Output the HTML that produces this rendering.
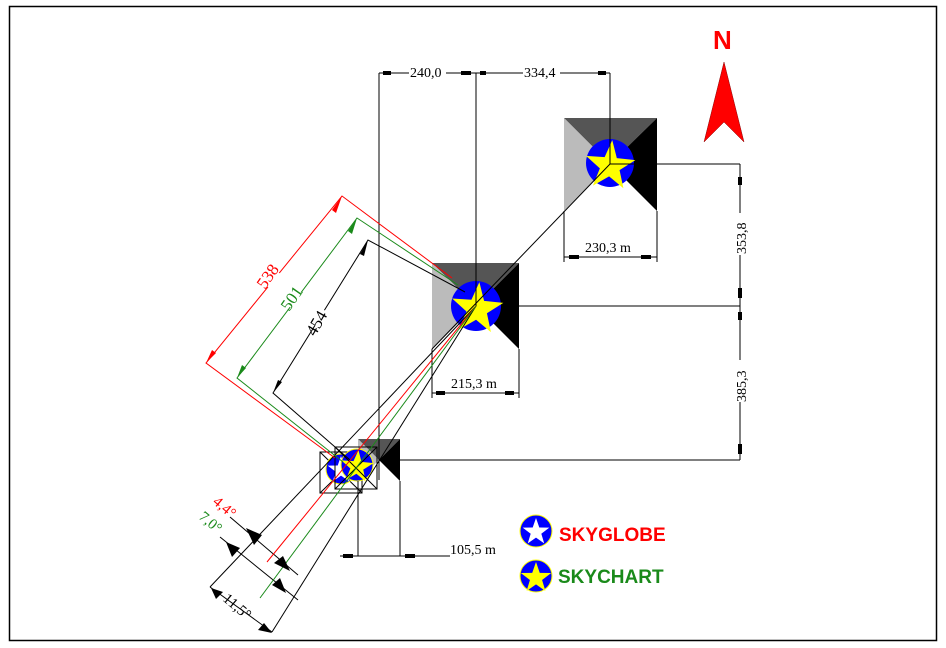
<!DOCTYPE html>
<html><head><meta charset="utf-8"><style>
html,body{margin:0;padding:0;background:#fff}
svg{display:block}
text{font-family:"Liberation Serif",serif}
</style></head><body>
<svg width="946" height="648" viewBox="0 0 946 648" xmlns="http://www.w3.org/2000/svg">
<defs>
<polygon id="st" points="0,-1 0.235,-0.324 0.951,-0.309 0.380,0.124 0.588,0.809 0,0.4 -0.588,0.809 -0.380,0.124 -0.951,-0.309 -0.235,-0.324"/>
</defs>
<rect x="9.5" y="6.5" width="927" height="634" fill="none" stroke="#000" stroke-width="1.5"/>

<g>
<polygon points="564,118 657,118 610,164" fill="#555"/>
<polygon points="564,118 564,211 610,164" fill="#bbb"/>
<polygon points="657,118 657,211 610,164" fill="#000"/>
</g>
<g>
<polygon points="432,263 519,263 476,306" fill="#555"/>
<polygon points="432,263 432,349 476,306" fill="#bbb"/>
<polygon points="519,263 519,349 476,306" fill="#000"/>
</g>
<g>
<polygon points="358,439 400,439 379,460" fill="#555"/>
<polygon points="358,439 358,481 379,460" fill="#bbb"/>
<polygon points="400,439 400,481 379,460" fill="#000"/>
</g>

<circle cx="610" cy="163" r="24" fill="#0000ff"/>
<use href="#st" transform="translate(610,166) scale(26) rotate(5)" fill="#ffff00"/>
<circle cx="476" cy="306" r="25" fill="#0000ff"/>
<use href="#st" transform="translate(477,309) scale(27) rotate(5)" fill="#ffff00"/>

<rect x="320" y="452" width="42" height="41" fill="none" stroke="#000"/>
<line x1="320" y1="452" x2="362" y2="493" stroke="#000"/><line x1="362" y1="452" x2="320" y2="493" stroke="#000"/>
<circle cx="341" cy="469" r="15" fill="#0000ff" stroke="#ff0" stroke-width="1"/>
<use href="#st" transform="translate(341,470) scale(14)" fill="#fff"/>
<circle cx="357" cy="465" r="16" fill="#0000ff" stroke="#ff0" stroke-width="1"/>
<use href="#st" transform="translate(357,467) scale(17) rotate(5)" fill="#ffff00"/>
<rect x="335" y="447" width="42" height="42" fill="none" stroke="#000"/>
<line x1="335" y1="447" x2="377" y2="489" stroke="#000"/><line x1="377" y1="447" x2="335" y2="489" stroke="#000"/>

<g stroke="#000" stroke-width="1" fill="none">
<line x1="379" y1="73" x2="610" y2="73"/>
<line x1="379" y1="73" x2="379" y2="480"/>
<line x1="476" y1="73" x2="476" y2="306"/>
<line x1="610" y1="73" x2="610" y2="164"/>
<line x1="610" y1="164" x2="740" y2="164"/>
<line x1="519" y1="306" x2="740" y2="306"/>
<line x1="400" y1="460" x2="740" y2="460"/>
<line x1="740" y1="164" x2="740" y2="460"/>
<line x1="564" y1="211" x2="564" y2="262"/><line x1="657" y1="211" x2="657" y2="262"/>
<line x1="564" y1="257" x2="657" y2="257"/>
<line x1="432" y1="349" x2="432" y2="398"/><line x1="519" y1="349" x2="519" y2="398"/>
<line x1="432" y1="393" x2="519" y2="393"/>
<line x1="358" y1="481" x2="358" y2="556"/><line x1="400" y1="481" x2="400" y2="556"/>
<line x1="340" y1="556" x2="450" y2="556"/>
<line x1="610" y1="164" x2="432" y2="349"/>
<line x1="476" y1="306" x2="210" y2="587"/>
<line x1="476" y1="306" x2="272" y2="632"/>
<polyline points="465,292 368,240 273,393 350,460"/>
<line x1="230" y1="517" x2="298" y2="575"/>
<line x1="220" y1="537" x2="298" y2="600"/>
<line x1="210" y1="587" x2="272" y2="632"/>
</g>
<g stroke="#f00" fill="none">
<polyline points="452,278 342,196 206,363 335,458"/>
<line x1="476" y1="306" x2="267" y2="562"/>
</g>
<g stroke="#1a8a1a" fill="none">
<polyline points="458,285 357,218 237,378 343,462"/>
<line x1="476" y1="306" x2="260" y2="598"/>
</g>

<g fill="#000">
<rect x="383" y="71" width="8" height="4"/><rect x="461" y="71" width="10" height="4"/>
<rect x="480" y="71" width="6" height="4"/><rect x="598" y="71" width="8" height="4"/>
<rect x="738" y="177" width="4" height="8"/><rect x="738" y="288" width="4" height="10"/>
<rect x="738" y="312" width="4" height="8"/><rect x="738" y="444" width="4" height="10"/>
<rect x="569" y="255" width="10" height="4"/><rect x="641" y="255" width="10" height="4"/>
<rect x="436" y="391" width="9" height="4"/><rect x="505" y="391" width="9" height="4"/>
<rect x="343" y="554" width="10" height="4"/><rect x="405" y="554" width="10" height="4"/>
<polygon points="246,528 262,535 254,545"/>
<polygon points="290,571 274,563 283,556"/>
<polygon points="226,542 240,548 232,557"/>
<polygon points="286,593 272,585 280,578"/>
<polygon points="211,588 223,592 216,599"/>
<polygon points="272,633 258,630 264,623"/>
</g>
<g fill="#f00"><polygon points="342,196 332,210 336,213"/><polygon points="206,363 212,350 216,353"/></g>
<g fill="#1a8a1a"><polygon points="357,218 348,231 352,234"/><polygon points="237,378 242,365 246,368"/></g>
<g fill="#000"><polygon points="368,240 360,254 364,256"/><polygon points="273,393 278,380 282,382"/></g>

<g font-size="14">
<rect x="409" y="64" width="37" height="15" fill="#fff"/>
<text x="410" y="77">240,0</text>
<rect x="523" y="64" width="37" height="15" fill="#fff"/>
<text x="524" y="77">334,4</text>
<text x="585" y="252">230,3 m</text>
<text x="451" y="388">215,3 m</text>
<text x="450" y="554">105,5 m</text>
<rect x="731" y="213" width="18" height="42" fill="#fff"/>
<text transform="translate(746,254) rotate(-90)">353,8</text>
<rect x="731" y="360" width="18" height="42" fill="#fff"/>
<text transform="translate(746,402) rotate(-90)">385,3</text>
<g font-size="17">
<rect x="256" y="258" width="18" height="32" fill="#fff" transform="rotate(-55 265 274)"/>
<text fill="#f00" transform="translate(265,290) rotate(-55)">538</text>
<rect x="281" y="280" width="18" height="32" fill="#fff" transform="rotate(-55 290 296)"/>
<text fill="#1a8a1a" transform="translate(289,312) rotate(-55)">501</text>
<rect x="311" y="302" width="18" height="32" fill="#fff" transform="rotate(-60 320 318)"/>
<text transform="translate(315,337) rotate(-60)">454</text>
</g>
<text fill="#f00" font-size="15" transform="translate(212,503) rotate(40)">4,4°</text>
<text fill="#1a8a1a" font-size="15" transform="translate(198,518) rotate(40)">7,0°</text>
<text font-size="15" transform="translate(222,600) rotate(40)">11,5°</text>
</g>

<text x="713" y="49" font-weight="bold" font-size="26" fill="#f00" style="font-family:'Liberation Sans',sans-serif">N</text>
<polygon points="724,62 744,142 724,122 704,142" fill="#f00" stroke="#800" stroke-width="0.5"/>

<circle cx="536" cy="531" r="16" fill="#0000ff" stroke="#ff0" stroke-width="1"/>
<use href="#st" transform="translate(536,532) scale(14)" fill="#fff"/>
<circle cx="536" cy="576" r="16" fill="#0000ff" stroke="#ff0" stroke-width="1"/>
<use href="#st" transform="translate(536,578) scale(16)" fill="#ff0"/>
<text x="559" y="541" fill="#f00" font-size="19" font-weight="bold" style="font-family:'Liberation Sans',sans-serif">SKYGLOBE</text>
<text x="558" y="583" fill="#1a8a1a" font-size="19" font-weight="bold" style="font-family:'Liberation Sans',sans-serif">SKYCHART</text>
</svg>
</body></html>
